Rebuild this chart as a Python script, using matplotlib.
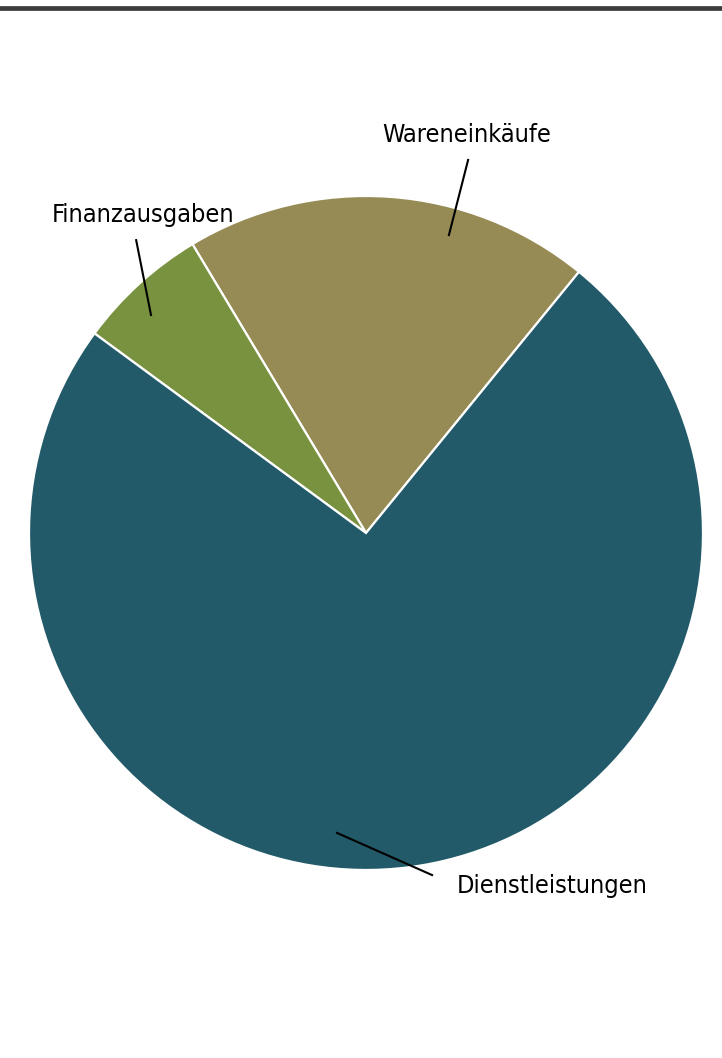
import matplotlib
matplotlib.use('Agg')
import matplotlib.pyplot as plt
from matplotlib.lines import Line2D
import numpy as np

# Anteile (%) der Ausgaben
labels = ['Wareneinkäufe', 'Finanzausgaben', 'Dienstleistungen']
values = [19.5, 6.3, 74.2]
colors = ['#968b55', '#79923f', '#225a69']

# label positions (data units, pie radius = 1): text xy, leader line start/end
text_pos = [(0.300, 1.181), (-0.662, 0.944), (0.270, -1.047)]
text_ha = ['center', 'center', 'left']
line_in = [(0.246, 0.884), (-0.638, 0.647), (-0.086, -0.890)]
line_out = [(0.303, 1.107), (-0.682, 0.869), (0.196, -1.015)]

fig = plt.figure(figsize=(7.22, 10.58), dpi=100)
ax = fig.add_axes([0, 0, 1, 1])

ax.pie(values, colors=colors, startangle=50.8, counterclock=True,
       wedgeprops=dict(edgecolor='white', linewidth=1.6))

for lab, tp, ha, p0, p1 in zip(labels, text_pos, text_ha, line_in, line_out):
    ax.plot([p0[0], p1[0]], [p0[1], p1[1]], color='black', linewidth=1.5)
    ax.text(tp[0], tp[1], lab, ha=ha, va='center', fontsize=18.2, color='black',
            family='DejaVu Sans', fontstretch='condensed')

ax.set_xlim(-366 / 337, (722 - 366) / 337)
ax.set_ylim(-525 / 337, 533 / 337)
ax.set_aspect('equal')
ax.axis('off')

# dark rule at the top
fig.add_artist(Line2D([0, 1], [1 - 7.5 / 1058, 1 - 7.5 / 1058], color='#3c3c3c',
                      linewidth=3.4, transform=fig.transFigure))

plt.savefig('out.png', dpi=100)
plt.close()
